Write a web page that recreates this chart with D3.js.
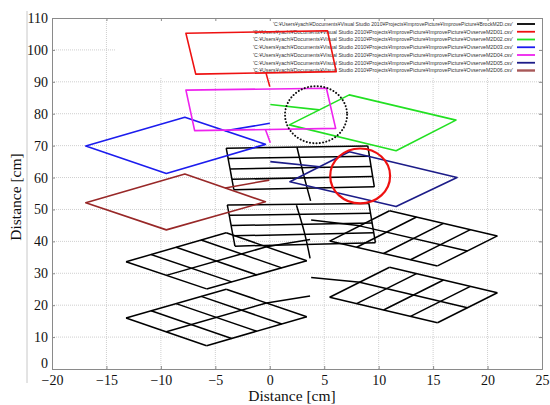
<!DOCTYPE html>
<html>
<head>
<meta charset="utf-8">
<script src="https://cdnjs.cloudflare.com/ajax/libs/d3/7.8.5/d3.min.js"></script>
<style>
  body { margin: 0; background: #fff; }
  svg { display: block; }
</style>
</head>
<body>
<svg id="chart" width="550" height="405"></svg>
<script>
// tick values
const xTicks = [-20, -15, -10, -5, 0, 5, 10, 15, 20, 25];
const yTicks = [0, 10, 20, 30, 40, 50, 60, 70, 80, 90, 100, 110];

const legendLabels = [
  "'C:\u00a5Users\u00a5yachi\u00a5Documents\u00a5Visual Studio 2010\u00a5Projects\u00a5ImprovePicture\u00a5ImprovePicture\u00a5BrockM2D.csv'",
  "'C:\u00a5Users\u00a5yachi\u00a5Documents\u00a5Visual Studio 2010\u00a5Projects\u00a5ImprovePicture\u00a5ImprovePicture\u00a5OvserveM2D01.csv'",
  "'C:\u00a5Users\u00a5yachi\u00a5Documents\u00a5Visual Studio 2010\u00a5Projects\u00a5ImprovePicture\u00a5ImprovePicture\u00a5OvserveM2D02.csv'",
  "'C:\u00a5Users\u00a5yachi\u00a5Documents\u00a5Visual Studio 2010\u00a5Projects\u00a5ImprovePicture\u00a5ImprovePicture\u00a5OvserveM2D03.csv'",
  "'C:\u00a5Users\u00a5yachi\u00a5Documents\u00a5Visual Studio 2010\u00a5Projects\u00a5ImprovePicture\u00a5ImprovePicture\u00a5OvserveM2D04.csv'",
  "'C:\u00a5Users\u00a5yachi\u00a5Documents\u00a5Visual Studio 2010\u00a5Projects\u00a5ImprovePicture\u00a5ImprovePicture\u00a5OvserveM2D05.csv'",
  "'C:\u00a5Users\u00a5yachi\u00a5Documents\u00a5Visual Studio 2010\u00a5Projects\u00a5ImprovePicture\u00a5ImprovePicture\u00a5OvserveM2D06.csv'"
];

// BrockM2D: grid blocks (left, top, right, bottom corners) and their tails
const gridBlockUL = [[-13.2, 33.6], [-4.0, 42.7], [3.4, 33.9], [-5.8, 25.1]];
const gridBlockLL = [[-13.2, 16.0], [-4.0, 25.0], [3.4, 16.4], [-5.8, 7.3]];
const gridBlockUR = [[5.5, 40.1], [11.0, 49.6], [20.9, 41.7], [15.4, 32.3]];
const gridBlockLR = [[5.5, 22.5], [11.0, 31.9], [20.9, 23.9], [15.4, 14.5]];
const gridTailUL = [[-0.3, 38.3], [3.7, 40.6]];
const gridTailLL = [[-0.3, 20.7], [3.7, 22.9]];
const gridTailUR = [[3.8, 46.7], [8.3, 44.9]];
const gridTailLR = [[3.8, 28.7], [8.3, 27.2]];

// BrockM2D: ladder blocks (top-left, top-right, bottom-right, bottom-left) and dividers
const ladderUpper = [[-4.0, 69.2], [9.0, 69.9], [9.6, 57.1], [-3.3, 56.2]];
const ladderLower = [[-3.9, 51.4], [9.1, 51.9], [9.7, 39.6], [-3.2, 38.5]];
const dividerUpper = [[2.5, 69.5], [3.1, 61.0], [3.75, 52.7]];
const dividerLower = [[2.45, 51.3], [3.2, 42.5], [3.7, 34.7]];

// OvserveM2D01..06: quadrilaterals and tails
const obs01 = [[-7.7, 105.2], [5.3, 106.0], [6.1, 93.2], [-6.8, 92.4]];
const obs01Tail = [[-0.35, 92.8], [0.0, 88.5]];
const obs02 = [[1.8, 76.5], [7.3, 85.9], [17.1, 78.0], [11.6, 68.4]];
const obs02Tail = [[4.55, 81.2], [0.05, 82.9]];
const obs03 = [[-16.9, 69.9], [-7.8, 78.9], [-0.4, 70.4], [-9.5, 61.3]];
const obs03Tail = [[-4.1, 74.65], [0.0, 77.0]];
const obs04 = [[-7.7, 87.4], [5.2, 88.0], [6.05, 75.4], [-6.9, 74.7]];
const obs04Tail = [[-0.4, 75.05], [0.05, 70.9]];
const obs05 = [[1.85, 58.7], [7.3, 68.1], [17.2, 60.0], [11.6, 50.9]];
const obs05Tail = [[4.6, 63.4], [0.05, 65.0]];
const obs06 = [[-16.9, 52.1], [-7.8, 61.1], [-0.4, 52.4], [-9.5, 43.6]];
const obs06Tail = [[-4.1, 56.75], [-0.05, 59.2]];

// annotation ellipses: [cx, cy, rx, ry] in cm
const redCircle = [8.3, 60.5, 2.75, 8.6];
const dottedCircle = [4.25, 79.7, 2.85, 8.95];

const colors = ["#000000", "#ee1111", "#22e022", "#1c1cee", "#ee22ee", "#1c1c88", "#982828"];

document.addEventListener("DOMContentLoaded", () => {
  const svg = d3.select("#chart");
  const left = 52, right = 542, top = 18, bottom = 369;

  const x = d3.scaleLinear().domain([-20, 25]).range([left, right]);
  const y = d3.scaleLinear().domain([0, 110]).range([bottom, top]);
  const line = d3.line().x(d => x(d[0])).y(d => y(d[1]));

  // faint frame line left of the picture
  svg.append("line")
    .attr("x1", 27).attr("x2", 27).attr("y1", 11).attr("y2", 383)
    .attr("stroke", "#c8c8c8").attr("stroke-width", 1);

  // grid
  svg.append("g").selectAll("line").data(xTicks.slice(1, -1)).enter().append("line")
    .attr("x1", d => x(d)).attr("x2", d => x(d))
    .attr("y1", top).attr("y2", bottom)
    .attr("stroke", "#cfcfcf").attr("stroke-dasharray", "1,1");
  svg.append("g").selectAll("line").data(yTicks.slice(1, -1)).enter().append("line")
    .attr("x1", left).attr("x2", right)
    .attr("y1", d => y(d)).attr("y2", d => y(d))
    .attr("stroke", "#cfcfcf").attr("stroke-dasharray", "1,1");

  // legend background hides the grid under it
  svg.append("rect")
    .attr("x", 116).attr("y", top + 0.5).attr("width", right - 116 - 0.5).attr("height", 59)
    .attr("fill", "#fff");

  // axes
  const xAxisB = d3.axisBottom(x).tickValues(xTicks).tickSize(-3).tickPadding(6);
  const xAxisT = d3.axisTop(x).tickValues(xTicks).tickSize(-3).tickFormat("");
  const yAxisL = d3.axisLeft(y).tickValues(yTicks).tickSize(-3).tickPadding(4);
  const yAxisR = d3.axisRight(y).tickValues(yTicks).tickSize(-3).tickFormat("");

  const axes = [
    svg.append("g").attr("transform", "translate(0," + bottom + ")").call(xAxisB),
    svg.append("g").attr("transform", "translate(0," + top + ")").call(xAxisT),
    svg.append("g").attr("transform", "translate(" + left + ",0)").call(yAxisL),
    svg.append("g").attr("transform", "translate(" + right + ",0)").call(yAxisR)
  ];
  axes.forEach(g => {
    g.select(".domain").attr("stroke", "#8a8a8a");
    g.selectAll(".tick line").attr("stroke", "#8a8a8a");
    g.selectAll(".tick text")
      .attr("fill", "#111")
      .style("font-family", "'Liberation Serif', 'DejaVu Serif', serif")
      .style("font-size", "14px");
  });
  // the 0 on the y axis sits a bit higher, like the source
  axes[2].selectAll(".tick text").filter(d => d === 0).attr("dy", "-0.1em");

  // axis titles
  svg.append("text")
    .attr("x", 292).attr("y", 401)
    .attr("text-anchor", "middle")
    .style("font-family", "'Liberation Serif', serif").style("font-size", "15.5px")
    .attr("fill", "#111")
    .text("Distance [cm]");
  svg.append("text")
    .attr("transform", "translate(21,197) rotate(-90)")
    .attr("text-anchor", "middle")
    .style("font-family", "'Liberation Serif', serif").style("font-size", "15.5px")
    .attr("fill", "#111")
    .text("Distance [cm]");

  // legend
  const legend = svg.append("g").selectAll("g").data(legendLabels).enter().append("g")
    .attr("transform", (d, i) => "translate(0," + (24 + i * 7.75) + ")");
  legend.append("text")
    .attr("x", 513).attr("y", 1.8)
    .attr("text-anchor", "end")
    .attr("textLength", (d, i) => i === 0 ? 240 : 260)
    .attr("lengthAdjust", "spacingAndGlyphs")
    .style("font-family", "'Liberation Sans', Arial, sans-serif").style("font-size", "5.4px")
    .attr("fill", "#333")
    .text(d => d);
  legend.append("line")
    .attr("x1", 517).attr("x2", 535).attr("y1", 0).attr("y2", 0)
    .attr("stroke", (d, i) => i === 6 ? "#a85858" : colors[i])
    .attr("stroke-width", (d, i) => i === 6 ? 2.4 : 1.8);

  const plot = svg.append("g").attr("fill", "none").attr("stroke-linejoin", "round");

  // helpers
  function lerp(a, b, t) { return [a[0] + (b[0] - a[0]) * t, a[1] + (b[1] - a[1]) * t]; }

  // grid block: subdivide edge p0->p1 into n and p1->p2 into m
  function drawGridBlock(c, n, m) {
    const segs = [];
    for (let i = 0; i <= n; i++) {
      segs.push([lerp(c[0], c[1], i / n), lerp(c[3], c[2], i / n)]);
    }
    for (let j = 0; j <= m; j++) {
      segs.push([lerp(c[0], c[3], j / m), lerp(c[1], c[2], j / m)]);
    }
    plot.append("g").selectAll("path").data(segs).enter().append("path")
      .attr("d", line).attr("stroke", colors[0]).attr("stroke-width", 1.5);
  }

  // ladder block: outline plus equally spaced rungs
  function drawLadder(c, rows) {
    const segs = [];
    for (let i = 0; i <= rows; i++) {
      segs.push([lerp(c[0], c[3], i / rows), lerp(c[1], c[2], i / rows)]);
    }
    segs.push([c[0], c[3]]);
    segs.push([c[1], c[2]]);
    plot.append("g").selectAll("path").data(segs).enter().append("path")
      .attr("d", line).attr("stroke", colors[0]).attr("stroke-width", 1.5);
  }

  function drawPath(pts, color, width, closed) {
    plot.append("path")
      .attr("d", line(pts) + (closed ? "Z" : ""))
      .attr("stroke", color).attr("stroke-width", width);
  }

  drawGridBlock(gridBlockUL, 4, 2);
  drawGridBlock(gridBlockLL, 4, 2);
  drawGridBlock(gridBlockUR, 2, 4);
  drawGridBlock(gridBlockLR, 2, 4);
  [gridTailUL, gridTailLL, gridTailUR, gridTailLR].forEach(t => drawPath(t, colors[0], 1.5, false));

  drawLadder(ladderUpper, 4);
  drawLadder(ladderLower, 4);
  plot.append("path").attr("d", d3.line().x(d => x(d[0])).y(d => y(d[1])).curve(d3.curveCatmullRom)(dividerUpper))
    .attr("stroke", colors[0]).attr("stroke-width", 1.5);
  plot.append("path").attr("d", d3.line().x(d => x(d[0])).y(d => y(d[1])).curve(d3.curveCatmullRom)(dividerLower))
    .attr("stroke", colors[0]).attr("stroke-width", 1.5);

  const observed = [obs01, obs02, obs03, obs04, obs05, obs06];
  const tails = [obs01Tail, obs02Tail, obs03Tail, obs04Tail, obs05Tail, obs06Tail];
  observed.forEach((shape, i) => {
    drawPath(shape, colors[i + 1], 1.6, true);
    drawPath(tails[i], colors[i + 1], 1.6, false);
  });

  // annotations
  plot.append("ellipse")
    .attr("cx", x(redCircle[0])).attr("cy", y(redCircle[1]))
    .attr("rx", x(redCircle[0] + redCircle[2]) - x(redCircle[0]))
    .attr("ry", y(redCircle[1]) - y(redCircle[1] + redCircle[3]))
    .attr("stroke", "#ee1111").attr("stroke-width", 2.2);
  plot.append("ellipse")
    .attr("cx", x(dottedCircle[0])).attr("cy", y(dottedCircle[1]))
    .attr("rx", x(dottedCircle[0] + dottedCircle[2]) - x(dottedCircle[0]))
    .attr("ry", y(dottedCircle[1]) - y(dottedCircle[1] + dottedCircle[3]))
    .attr("stroke", "#111").attr("stroke-width", 2)
    .attr("stroke-dasharray", "0.1,3.2").attr("stroke-linecap", "round");
});
</script>
</body>
</html>
